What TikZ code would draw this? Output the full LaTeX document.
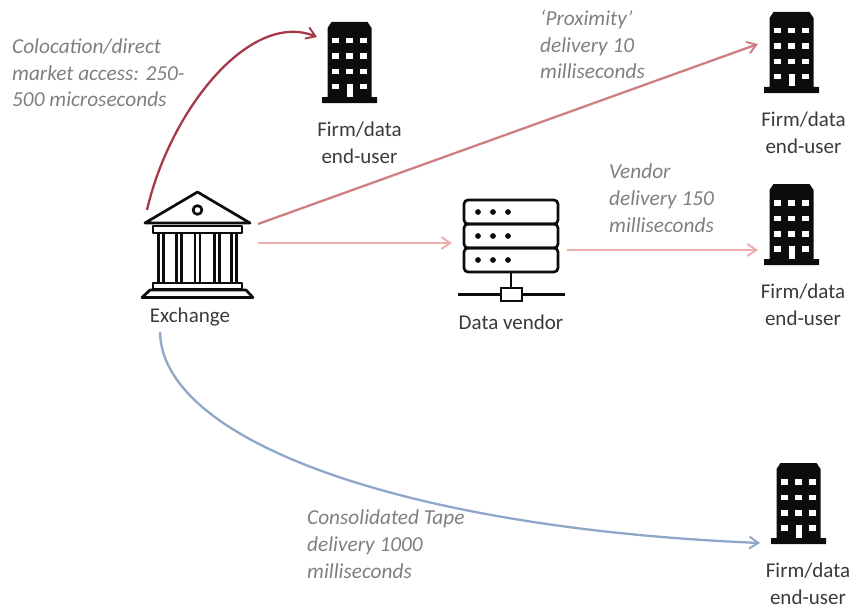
\documentclass[tikz,border=0pt]{standalone}
\usepackage{fontspec}
\setmainfont{Carlito}
\usetikzlibrary{arrows.meta}
\definecolor{lab}{HTML}{7F7F7F}
\definecolor{txt}{HTML}{3A3A3A}
\definecolor{ink}{HTML}{0C0C0C}
\definecolor{deepred}{HTML}{A8394A}
\definecolor{midred}{HTML}{CE7F82}
\definecolor{palered}{HTML}{EDAEAE}
\definecolor{steel}{HTML}{8FA6C8}
\tikzset{
  x=1pt,y=-1pt,
  note/.style={font=\fontsize{21.3}{26.7}\selectfont\itshape,text=lab,align=left,anchor=north west,inner sep=0},
  captext/.style={font=\fontsize{21}{27}\selectfont,text=txt,align=center,inner sep=0},
  conn/.style={line width=2.3pt,-{Straight Barb[length=9pt,width=12pt,line width=1.9pt]}},
  paleconn/.style={conn,line width=2.7pt,palered},
  slot/.style={inner sep=0,minimum width=56pt,minimum height=82pt},
  building/.pic={
    \fill[ink] (-18,0) -- (18,0) -- (22,6) -- (22,75) -- (27.5,75) -- (27.5,81) -- (-27.5,81) -- (-27.5,75) -- (-22,75) -- (-22,6) -- cycle;
    \foreach \yy in {16,31.5,47}{\foreach \xx in {-14,0,14}{\fill[white] (\xx-3.2,\yy) rectangle (\xx+3.2,\yy+5.5);}}
    \foreach \xx in {-14,14}{\fill[white] (\xx-3.2,62) rectangle (\xx+3.2,67.5);}
    \fill[white] (-3,62) rectangle (3,74.5);
  }
}
\begin{document}
\begin{tikzpicture}
\useasboundingbox (0,0) rectangle (857,610);
% buildings
\node[slot] (firmA) at (349.5,63) {};
\pic at (349.5,22) {building};
\node[slot] (firmB) at (791.5,53) {};
\pic at (791.5,12) {building};
\node[slot] (firmC) at (791.5,225) {};
\pic at (791.5,184) {building};
\node[slot] (firmD) at (798.5,504) {};
\pic at (798.5,463) {building};
\node[captext] (capA) at (359.5,143) {Firm/data\\end-user};
\node[captext] (capB) at (803.5,133) {Firm/data\\end-user};
\node[captext] (capC) at (803,305) {Firm/data\\end-user};
\node[captext] (capD) at (808,584) {Firm/data\\end-user};
% exchange
\node[inner sep=0,minimum width=114pt,minimum height=110pt] (exch) at (198,245) {};
\begin{scope}[line width=2.7pt,draw=ink,line join=round]
\draw (145,223) -- (197.5,192) -- (250,223) -- cycle;
\draw (197.5,210) circle (4.4);
\draw (153,226) rectangle (242,233);
\foreach \cx in {161,179,197.5,217,234}{\draw (\cx-2.6,233) -- (\cx-2.6,282) (\cx+2.6,233) -- (\cx+2.6,282);}
\draw (153,283) rectangle (242,289);
\draw (142,297.5) -- (150,290) -- (246,290) -- (253,297.5) -- cycle;
\end{scope}
\node[captext] (capE) at (190,317) {Exchange};
% vendor
\node[inner sep=0,minimum width=110pt,minimum height=110pt] (vend) at (512,250) {};
\begin{scope}[line width=2.7pt,draw=ink]
\foreach \ty in {200,224,248}{
  \draw[rounded corners=4pt] (464,\ty) rectangle (558,\ty+24);
  \foreach \dx in {478,493,508}{\fill[ink] (\dx,\ty+12) circle (2.9);}
}
\draw (511,272) -- (511,288);
\draw (458,294.5) -- (501,294.5) (522,294.5) -- (565,294.5);
\draw (501,288) rectangle (522,301);
\end{scope}
\node[captext] (capV) at (511,322) {Data vendor};
% connector ends
\coordinate (a1) at (147,210);
\coordinate (a2) at (317,37);
\coordinate (b1) at (258,224);
\coordinate (b2) at (758,44);
\coordinate (c1) at (258,243);
\coordinate (c2) at (452,243);
\coordinate (d1) at (567,250);
\coordinate (d2) at (758,250);
\coordinate (e1) at (160,332);
\coordinate (e2) at (760,543);
\draw[conn,deepred] (a1) .. controls (170,110) and (250,10) .. (a2);
\draw[conn,midred] (b1) -- (b2);
\draw[paleconn] (c1) -- (c2);
\draw[paleconn] (d1) -- (d2);
\draw[conn,steel] (e1) .. controls (162,440) and (400,528) .. (e2);
% notes
\node[note] (n1) at (12,38.5) {Colocation/direct\\market access: 250-\\500 microseconds};
\node[note] (n2) at (540,10) {‘Proximity’\\delivery 10\\milliseconds};
\node[note] (n3) at (609,164) {Vendor\\delivery 150\\milliseconds};
\node[note] (n4) at (307,510) {Consolidated Tape\\delivery 1000\\milliseconds};
\end{tikzpicture}
\end{document}
